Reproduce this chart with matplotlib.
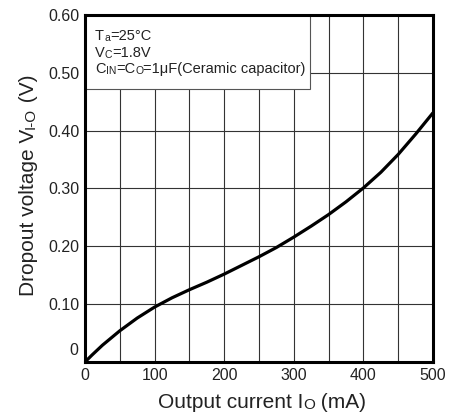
import matplotlib
matplotlib.use("Agg")
import matplotlib.pyplot as plt
from matplotlib.patches import Rectangle
from matplotlib.ticker import MultipleLocator

plt.rcParams["font.family"] = ["Liberation Sans", "DejaVu Sans"]

# dropout voltage vs output current
current_ma = [0, 10, 25, 50, 75, 100, 125, 150, 175, 200, 225, 250, 275,
              300, 325, 350, 375, 400, 425, 450, 475, 500]
dropout_v = [0, 0.012, 0.029, 0.054, 0.076, 0.095, 0.111, 0.125, 0.138, 0.152,
             0.167, 0.182, 0.198, 0.216, 0.235, 0.255, 0.277, 0.301,
             0.328, 0.359, 0.394, 0.431]

x_ticks = [0, 100, 200, 300, 400, 500]
y_ticks = [0, 0.1, 0.2, 0.3, 0.4, 0.5, 0.6]
y_tick_labels = ["", "0.10", "0.20", "0.30", "0.40", "0.50", "0.60"]

# condition lines: (text, is_small) pieces
cond_lines = [
    [("T", False), ("a", True), ("=25°C", False)],
    [("V", False), ("C", True), ("=1.8V", False)],
    [("C", False), ("IN", True), ("=C", False), ("O", True),
     ("=1μF(Ceramic capacitor)", False)],
]
xlabel_parts = [("Output current I", False), ("O", True), (" (mA)", False)]
ylabel_parts = [("Dropout voltage V", False), ("I-O", True), (" (V)", False)]

TXT = "#222222"


def mixed_text(ax, x, y, parts, big, small, rotation=0, zorder=6):
    # pieces drawn one after another, the small ones sit on the baseline
    prev = None
    for s, is_small in parts:
        size = small if is_small else big
        if prev is None:
            if rotation == 0:
                prev = ax.text(x, y, s, fontsize=size, color=TXT, transform=ax.transAxes,
                               ha="left", va="baseline", zorder=zorder)
            else:
                prev = ax.text(x, y, s, fontsize=size, color=TXT, transform=ax.transAxes,
                               ha="right", va="bottom", rotation=90, zorder=zorder)
        elif rotation == 0:
            prev = ax.annotate(s, xy=(1, 0), xycoords=prev, fontsize=size, color=TXT,
                               ha="left", va="bottom", zorder=zorder)
        else:
            prev = ax.annotate(s, xy=(1, 1), xycoords=prev, fontsize=size, color=TXT,
                               ha="right", va="bottom", rotation=90, zorder=zorder)


fig = plt.figure(figsize=(4.51, 4.16), dpi=100)
ax = fig.add_axes([0.1885, 0.1298, 0.7717, 0.8342])

ax.plot(current_ma, dropout_v, color="black", lw=2.3, zorder=4,
        solid_joinstyle="round", solid_capstyle="butt")

ax.set_xlim(0, 500)
ax.set_ylim(0, 0.6)
ax.set_xticks(x_ticks)
ax.set_yticks(y_ticks)
ax.set_yticklabels(y_tick_labels)
ax.xaxis.set_minor_locator(MultipleLocator(50))
ax.tick_params(which="both", length=0, labelsize=11.5, labelcolor=TXT)
ax.tick_params(axis="x", pad=4)
ax.tick_params(axis="y", pad=4)
ax.grid(True, which="both", color="#333333", lw=0.8)
ax.set_axisbelow(True)
for sp in ax.spines.values():
    sp.set_linewidth(2.2)
    sp.set_color("black")
    sp.set_zorder(5)

# the "0" of the y axis sits a bit above the corner
ax.text(-0.018, 0.012, "0", transform=ax.transAxes, fontsize=11.5, color=TXT,
        ha="right", va="bottom")

# conditions box
ax.add_patch(Rectangle((0, 0.787), 0.647, 0.213, transform=ax.transAxes,
                       facecolor="white", edgecolor="#555555", lw=0.8, zorder=3))
for i, parts in enumerate(cond_lines):
    mixed_text(ax, 0.029, 0.928 - i * 0.048, parts, 10.5, 7.5)

# axis labels
mixed_text(ax, 0.21, -0.133, xlabel_parts, 15, 11)
mixed_text(ax, -0.135, 0.19, ylabel_parts, 15, 11, rotation=90)

fig.savefig("out.png", dpi=100)
